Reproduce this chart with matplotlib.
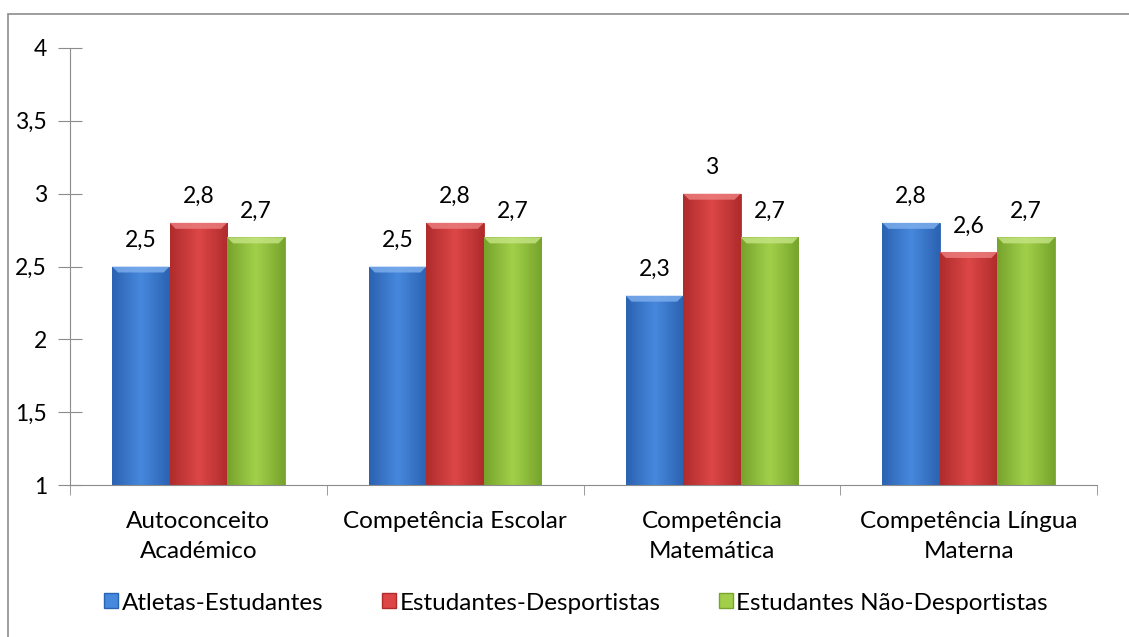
import numpy as np
import matplotlib.pyplot as plt
from matplotlib.patches import Rectangle, Patch, Polygon

plt.rcParams['font.family'] = ['Lato', 'DejaVu Sans']

categories = ['Autoconceito\nAcadémico', 'Competência Escolar',
              'Competência\nMatemática', 'Competência Língua\nMaterna']
series = ['Atletas-Estudantes', 'Estudantes-Desportistas', 'Estudantes Não-Desportistas']
atletas = [2.5, 2.5, 2.3, 2.8]
desportistas = [2.8, 2.8, 3.0, 2.6]
nao_desportistas = [2.7, 2.7, 2.7, 2.7]
values = [atletas, desportistas, nao_desportistas]

# (dark edge, light centre, bevel highlight)
colors = [('#2c62b2', '#4688dc', '#7fb0ee'),
          ('#b02c2c', '#dc4646', '#ee8080'),
          ('#76a42c', '#a2cf4a', '#c6e584')]

fig = plt.figure(figsize=(11.29, 6.37), dpi=100)
fig.patches.append(Rectangle((8 / 1129, -0.01), 1.02, 1 - 14 / 637 + 0.01,
                             transform=fig.transFigure, fill=False,
                             edgecolor='#8c8c8c', linewidth=1.2))
ax = fig.add_axes([70 / 1129, 1 - 485 / 637, 1027 / 1129, 437 / 637])

px_x = 1 / 256.75   # data units per pixel
px_y = 1 / 145.67

x = np.arange(len(categories))
w = 0.224
grad = np.linspace(0, 1, 64)
grad = 1 - np.abs(grad - 0.5) * 2  # dark at edges, light in the middle
for i, vals in enumerate(values):
    dark, light, hi = colors[i]
    cmap = plt.matplotlib.colors.LinearSegmentedColormap.from_list('g', [dark, light])
    bars = ax.bar(x + (i - 1) * w, np.array(vals) - 1, w, bottom=1,
                  color=light, edgecolor=dark, linewidth=0.6, zorder=2)
    for b, v in zip(bars, vals):
        x0, x1 = b.get_x(), b.get_x() + b.get_width()
        im = ax.imshow(grad[np.newaxis, :], cmap=cmap, aspect='auto',
                       extent=(x0, x1, 1, v), zorder=2.5)
        im.set_clip_path(b)
        # top bevel
        ax.add_patch(Polygon([(x0, v), (x1, v), (x1 - 6 * px_x, v - 6 * px_y),
                              (x0 + 6 * px_x, v - 6 * px_y)],
                             closed=True, facecolor=hi, edgecolor='none',
                             alpha=0.8, zorder=3))
        txt = ('%g' % v).replace('.', ',')
        ax.text((x0 + x1) / 2, v + 26 * px_y, txt,
                ha='center', va='center', fontsize=16.5, color='black')

ax.set_xlim(-0.5, len(categories) - 0.5)
ax.set_ylim(1, 4)
ticks = np.arange(1, 4.01, 0.5)
ax.set_yticks(ticks)
ax.set_yticklabels([('%g' % t).replace('.', ',') for t in ticks])
ax.set_xticks(x)
ax.set_xticklabels(categories, linespacing=1.5)
ax.set_xticks(np.arange(-0.5, len(categories)), minor=True)
ax.tick_params(axis='x', which='major', length=0, pad=19, labelsize=17.5)
ax.tick_params(axis='x', which='minor', length=7, color='#8c8c8c')
ax.tick_params(axis='y', direction='inout', length=17, color='#8c8c8c',
               labelsize=16.5, pad=8)
for s in ['top', 'right']:
    ax.spines[s].set_visible(False)
for s in ['left', 'bottom']:
    ax.spines[s].set_color('#8c8c8c')

handles = [Patch(facecolor=c[1], edgecolor=c[0]) for c in colors]
fig.legend(handles, series, loc='center', bbox_to_anchor=(576 / 1129, 1 - 603 / 637),
           ncol=3, frameon=False, fontsize=17.5, handlelength=0.58, handleheight=0.58,
           columnspacing=2.4, handletextpad=0.15)

fig.savefig('out.png', dpi=100)
